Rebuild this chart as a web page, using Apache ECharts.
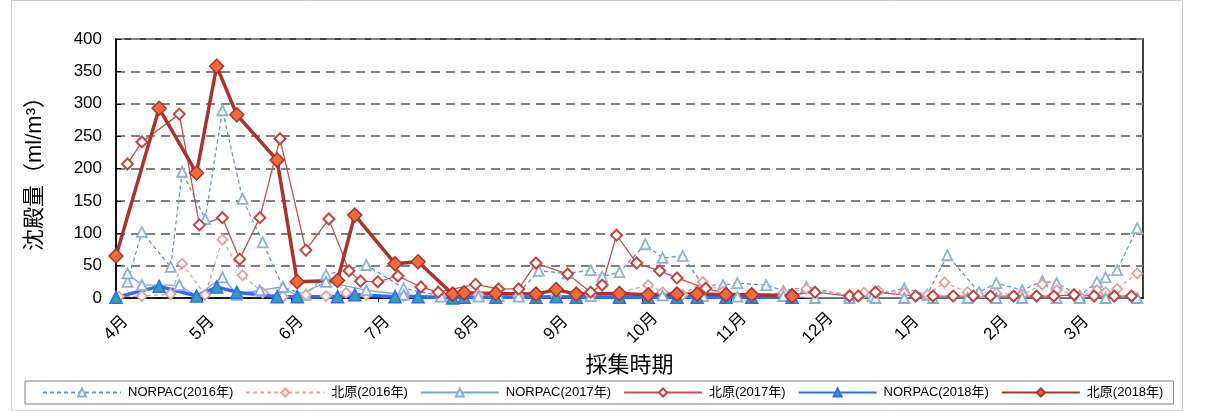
<!DOCTYPE html>
<html>
<head>
<meta charset="utf-8">
<script src="https://cdn.jsdelivr.net/npm/echarts@6/dist/echarts.min.js"></script>
<style>
html,body{margin:0;padding:0;background:#fff;}
#c{width:1211px;height:411px;}
</style>
</head>
<body>
<div id="c"></div>
<script>
// x values: days since April 1 (sampling date), y values: 沈殿量 (ml/m3)
const monthDays = [0, 30, 61, 91, 122, 153, 183, 214, 244, 275, 306, 334];
const monthLabels = ['4月','5月','6月','7月','8月','9月','10月','11月','12月','1月','2月','3月'];
const yTicks = [0, 50, 100, 150, 200, 250, 300, 350, 400];

const norpac2016Days = [4, 9, 19, 23, 31, 37, 44, 51, 58, 66, 73, 87, 100, 113, 126, 133, 140, 147, 157, 165, 169, 175, 184, 190, 197, 204, 211, 216, 226, 232, 240, 255, 263, 274, 282, 289, 300, 306, 315, 322, 327, 335, 341, 344, 348, 355];
const norpac2016Vals = [25, 102, 48, 195, 122, 290, 153, 86, 17, 5, 36, 51, 15, 3, 5, 3, 8, 42, 38, 43, 33, 40, 83, 62, 65, 20, 20, 23, 20, 11, 17, 3, 3, 15, 5, 66, 9, 23, 12, 26, 23, 3, 25, 32, 43, 108];

const kita2016Days = [1, 9, 19, 23, 31, 37, 44, 51, 58, 66, 73, 80, 87, 100, 113, 126, 140, 153, 165, 175, 185, 190, 197, 204, 211, 221, 232, 240, 255, 260, 265, 274, 282, 288, 296, 306, 315, 322, 327, 335, 341, 344, 348, 355];
const kita2016Vals = [2, 3, 6, 53, 5, 90, 35, 8, 2, 5, 3, 8, 5, 3, 3, 5, 3, 3, 5, 8, 20, 9, 5, 25, 10, 5, 8, 14, 5, 8, 11, 8, 5, 24, 9, 7, 5, 21, 12, 3, 12, 9, 14, 38];

const norpac2017Days = [4, 9, 22, 28, 37, 42, 50, 58, 63, 73, 87, 100, 113, 126, 140, 153, 165, 175, 190, 204, 216, 232, 243, 255, 264, 274, 284, 296, 306, 315, 327, 335, 344, 355];
const norpac2017Vals = [38, 20, 20, 3, 32, 5, 12, 17, 3, 25, 12, 5, 2, 2, 2, 3, 3, 2, 4, 3, 2, 3, 0, 0, 0, 0, 0, 0, 0, 0, 0, 0, 0, 0];

const kita2017Days = [4, 9, 22, 29, 37, 43, 50, 57, 66, 74, 81, 85, 91, 98, 106, 112, 125, 133, 140, 146, 157, 165, 169, 174, 181, 189, 195, 205, 212, 221, 235, 243, 255, 258, 264, 278, 284, 291, 298, 304, 312, 320, 326, 333, 340, 347, 353];
const kita2017Vals = [207, 241, 284, 113, 124, 60, 124, 246, 74, 122, 42, 26, 25, 34, 17, 9, 21, 14, 14, 54, 37, 9, 20, 97, 54, 42, 31, 15, 7, 6, 5, 9, 3, 3, 9, 3, 3, 3, 3, 3, 3, 3, 3, 5, 3, 3, 3];

const norpac2018Days = [0, 15, 28, 35, 42, 56, 63, 77, 83, 97, 105, 117, 121, 132, 146, 153, 160, 175, 185, 195, 202, 212, 221, 235];
const norpac2018Vals = [1, 18, 3, 17, 9, 2, 2, 2, 5, 2, 2, 0, 1, 1, 1, 2, 1, 1, 1, 1, 1, 1, 1, 1];

const kita2018Days = [0, 15, 28, 35, 42, 56, 63, 77, 83, 97, 105, 117, 121, 132, 146, 153, 160, 175, 185, 195, 202, 212, 221, 235];
const kita2018Vals = [65, 293, 193, 358, 283, 213, 25, 27, 128, 53, 56, 6, 8, 7, 6, 13, 6, 7, 5, 6, 6, 5, 5, 3];

const zip = (d, v) => d.map((x, i) => [x, v[i]]);
const FONT = '"Liberation Sans", "Noto Sans CJK JP", sans-serif';

const chart = echarts.init(document.getElementById('c'));
chart.setOption({
  animation: false,
  backgroundColor: '#fff',
  graphic: [{
    type: 'rect', left: 9, top: -2, shape: { width: 1171, height: 410 },
    style: { fill: 'none', stroke: '#cfcfcf', lineWidth: 1 }, silent: true, z: -10
  }],
  grid: { left: 116, right: 68, top: 39, bottom: 113, show: true, borderColor: '#000', borderWidth: 1.5, backgroundColor: 'transparent' },
  legend: {
    left: 25, top: 381,
    borderColor: '#7f7f7f', borderWidth: 1, padding: [5, 10, 5, 17],
    itemWidth: 78, itemHeight: 10, itemGap: 12,
    textStyle: { fontFamily: FONT, fontSize: 13, color: '#000', padding: [0, 0, 0, 2] },
    data: ['NORPAC(2016年)', '北原(2016年)', 'NORPAC(2017年)', '北原(2017年)', 'NORPAC(2018年)', '北原(2018年)']
  },
  xAxis: {
    type: 'value', min: 0, max: 357,
    name: '採集時期', nameLocation: 'middle', nameGap: 57,
    nameTextStyle: { fontFamily: FONT, fontSize: 22, color: '#000' },
    axisLine: { show: true, lineStyle: { color: '#000', width: 1.5 } },
    axisTick: { show: true, customValues: monthDays, length: 4, lineStyle: { color: '#000' } },
    axisLabel: {
      customValues: monthDays, rotate: 45, margin: 30, align: 'center', verticalAlign: 'middle',
      fontFamily: FONT, fontSize: 17, color: '#000',
      formatter: (v) => monthLabels[monthDays.indexOf(Math.round(v))] || ''
    },
    splitLine: { show: false }
  },
  yAxis: {
    type: 'value', min: 0, max: 400, interval: 50,
    name: '沈殿量（ml/m³）', nameLocation: 'middle', nameGap: 70, nameRotate: 90,
    nameTextStyle: { fontFamily: FONT, fontSize: 22, color: '#000' },
    axisLine: { show: true, lineStyle: { color: '#000', width: 1.5 } },
    axisTick: { show: true, inside: true, length: 5, lineStyle: { color: '#000' } },
    axisLabel: { fontFamily: FONT, fontSize: 17, color: '#000', margin: 14,
      formatter: (v) => yTicks.indexOf(v) >= 0 ? String(v) : '' },
    splitLine: { show: true, lineStyle: { color: '#7f7f7f', width: 2, type: [9, 6] } }
  },
  series: [
    { name: 'NORPAC(2016年)', type: 'line', data: zip(norpac2016Days, norpac2016Vals),
      symbol: 'triangle', symbolSize: 10,
      lineStyle: { color: '#5f95dc', width: 1.3, type: [4, 3] },
      itemStyle: { color: '#fff', borderColor: '#8fb1da', borderWidth: 1.8 } },
    { name: '北原(2016年)', type: 'line', data: zip(kita2016Days, kita2016Vals),
      symbol: 'diamond', symbolSize: 10,
      lineStyle: { color: '#e3a09e', width: 1.3, type: [4, 3] },
      itemStyle: { color: '#fff', borderColor: '#e3a09e', borderWidth: 1.8 } },
    { name: 'NORPAC(2017年)', type: 'line', data: zip(norpac2017Days, norpac2017Vals),
      symbol: 'triangle', symbolSize: 10,
      lineStyle: { color: '#7ba6dc', width: 1.3 },
      itemStyle: { color: '#fff', borderColor: '#86aee0', borderWidth: 1.8 } },
    { name: '北原(2017年)', type: 'line', data: zip(kita2017Days, kita2017Vals),
      symbol: 'diamond', symbolSize: 11,
      lineStyle: { color: '#c9504c', width: 1.3 },
      itemStyle: { color: '#fff', borderColor: '#c0463f', borderWidth: 2 } },
    { name: 'NORPAC(2018年)', type: 'line', data: zip(norpac2018Days, norpac2018Vals),
      symbol: 'triangle', symbolSize: 12,
      lineStyle: { color: '#2f6bff', width: 3.5 },
      itemStyle: { color: '#2fa3a6', borderColor: '#2f6bff', borderWidth: 1.5 } },
    { name: '北原(2018年)', type: 'line', data: zip(kita2018Days, kita2018Vals),
      symbol: 'diamond', symbolSize: 14,
      lineStyle: { color: '#a8342c', width: 3.5 },
      itemStyle: { color: '#f26a38', borderColor: '#a8342c', borderWidth: 1.5 } }
  ]
});
</script>
</body>
</html>
